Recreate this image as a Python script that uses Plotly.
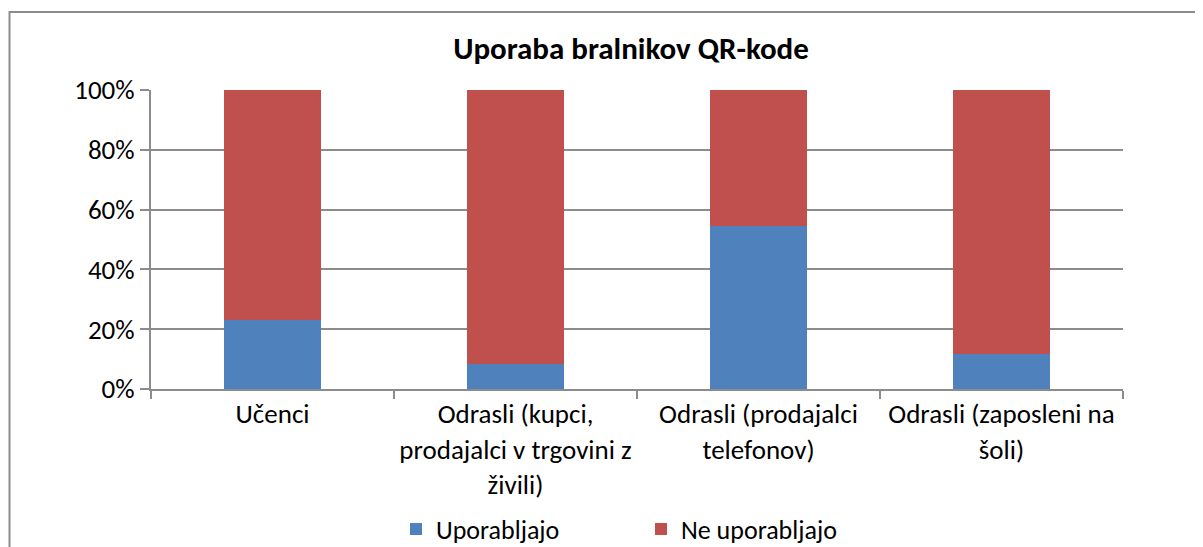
import plotly.graph_objects as go

categories = [
    "Učenci",
    "Odrasli (kupci,<br>prodajalci v trgovini z<br>živili)",
    "Odrasli (prodajalci<br>telefonov)",
    "Odrasli (zaposleni na<br>šoli)",
]
uporabljajo = [23.2, 8.2, 54.5, 11.6]
ne_uporabljajo = [100 - v for v in uporabljajo]
y_ticks = [0, 20, 40, 60, 80, 100]
y_tick_labels = ["0%", "20%", "40%", "60%", "80%", "100%"]

FONT = "Carlito, Calibri, Lato, sans-serif"
GRID = "#8c8c8c"

fig = go.Figure()
fig.add_trace(go.Bar(x=categories, y=uporabljajo, name="Uporabljajo",
                     marker=dict(color="#4F81BD", line=dict(width=0))))
fig.add_trace(go.Bar(x=categories, y=ne_uporabljajo, name="Ne uporabljajo",
                     marker=dict(color="#C0504D", line=dict(width=0))))

# page body adds an 8px offset; work in figure coordinates
OFF = 8
W, H = 1203, 547
L = 151 - OFF
T = 90 - OFF
R = W - (1123 - OFF)
B = H - (389 - OFF)
pw = W - L - R
ph = H - T - B

def px(x):
    return (x - OFF - L) / pw

def py(y):
    return (H - B - (y - OFF)) / ph

fig.update_layout(
    width=W, height=H,
    margin=dict(l=L, r=R, t=T, b=B, autoexpand=False),
    barmode="stack",
    bargap=0.6,
    plot_bgcolor="white",
    paper_bgcolor="white",
    font=dict(family=FONT, size=27, color="#000000"),
    title=dict(text="<b>Uporaba bralnikov QR-kode</b>", x=px(631), xref="paper",
               xanchor="center", y=1 - (48 - OFF) / H, yanchor="middle",
               font=dict(family=FONT, size=31, color="#000000")),
    xaxis=dict(
        showline=True, linecolor=GRID, linewidth=2,
        ticks="outside", tickson="boundaries", ticklen=8, tickcolor=GRID, tickwidth=2,
        showgrid=False, tickfont=dict(size=27), automargin=False,
    ),
    yaxis=dict(
        range=[0, 100], tickvals=y_ticks, ticktext=y_tick_labels,
        showline=True, linecolor=GRID, linewidth=2,
        ticks="outside", ticklen=9, tickcolor=GRID, tickwidth=2,
        showgrid=True, gridcolor=GRID, gridwidth=2,
        zeroline=False, tickfont=dict(size=27), automargin=False,
    ),
    legend=dict(orientation="h", x=px(396), xanchor="left", y=py(529), yanchor="middle",
                entrywidth=200, entrywidthmode="pixels",
                font=dict(size=26), traceorder="normal"),
    shapes=[dict(type="rect", xref="paper", yref="paper",
                 x0=px(9.5), x1=px(1230), y0=py(12), y1=py(600),
                 line=dict(color="#8c8c8c", width=2), layer="below")],
)

fig.write_html("out.html")
